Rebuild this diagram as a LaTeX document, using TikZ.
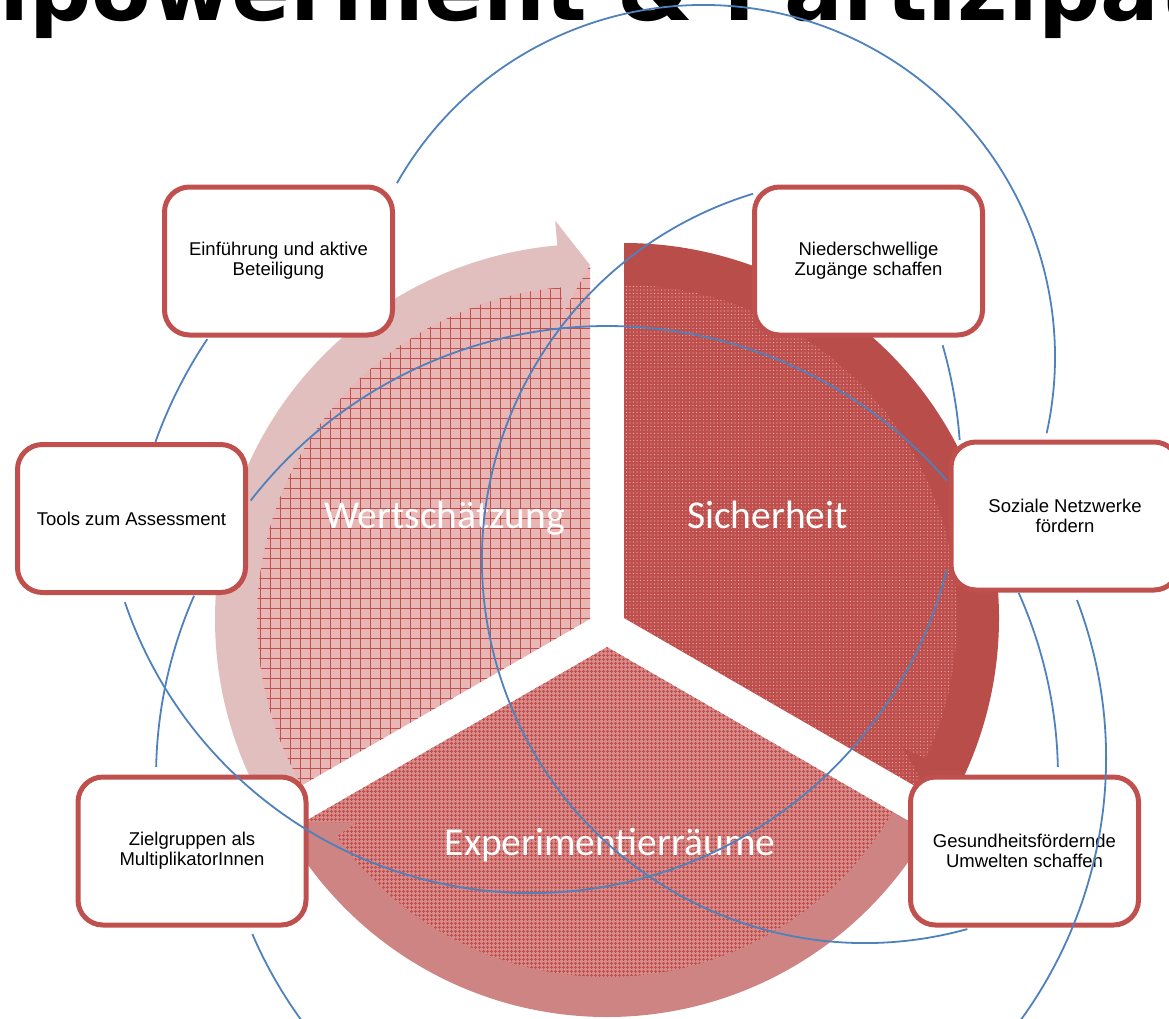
\documentclass[tikz,border=0pt]{standalone}
\usepackage{fontspec}
\setmainfont{Liberation Sans}
\newfontfamily\carl{Carlito}
\newfontfamily\titlefont{DejaVu Sans}
\usetikzlibrary{patterns.meta}
\definecolor{boxred}{HTML}{C0504D}
\definecolor{wband}{HTML}{E2BFBF}
\definecolor{sband}{HTML}{B94D4A}
\definecolor{eband}{HTML}{CD8483}
\definecolor{wfill}{HTML}{E8B6B5}
\definecolor{sfill}{HTML}{BF4F4C}
\definecolor{efill}{HTML}{DA8C8B}
\definecolor{arcblue}{HTML}{4F81BD}
\begin{document}
\begin{tikzpicture}[x=1pt,y=1pt,
  mybox/.style={draw=boxred, line width=5pt, rounded corners=25pt, fill=white,
    minimum width=228pt, minimum height=148pt, align=center, inner sep=0pt,
    font=\fontsize{18.5}{20}\selectfont, text=black},
  seglabel/.style={text=white, font=\carl\fontsize{39.5}{40}\selectfont, anchor=base, inner sep=0pt},
  arcline/.style={draw=arcblue, line width=1.8pt}]
\useasboundingbox (0,0) rectangle (1169,-1018);
\clip (0,0) rectangle (1169,-1018);
% title (cut off at the top edge)
\node[anchor=base west, inner sep=0pt, font=\titlefont\bfseries\fontsize{87}{87}\selectfont] (title) at (-121,-20) {Empowerment \& Partizipation};
% sector apexes
\coordinate (W) at (590,-619);
\coordinate (S) at (624,-618);
\coordinate (E) at (607,-647);
% sectors
\fill[wfill] (W) -- ([shift={(W)}]210:352) arc[start angle=210,end angle=90,radius=352] -- cycle;
\fill[pattern={Hatch[angle=0,distance=10pt,line width=0.7pt]},pattern color=boxred] (W) -- ([shift={(W)}]210:352) arc[start angle=210,end angle=90,radius=352] -- cycle;
\fill[sfill] (S) -- ([shift={(S)}]90:352) arc[start angle=90,end angle=-30,radius=352] -- cycle;
\fill[pattern={Dots[radius=0.55pt,distance=3.5pt]},pattern color=white!55!sfill] (S) -- ([shift={(S)}]90:352) arc[start angle=90,end angle=-30,radius=352] -- cycle;
\fill[efill] (E) -- ([shift={(E)}]330:352) arc[start angle=330,end angle=210,radius=352] -- cycle;
\fill[pattern={Hatch[angle=0,distance=4pt,line width=1.1pt]},pattern color=boxred] (E) -- ([shift={(E)}]330:352) arc[start angle=330,end angle=210,radius=352] -- cycle;
% circular arrows
\fill[wband] ([shift={(W)}]210:333) arc[start angle=210,end angle=95,radius=333]
  -- ([shift={(W)}]95:308) -- ([shift={(W)}]90:354) -- ([shift={(W)}]95:400)
  -- ([shift={(W)}]95:375) arc[start angle=95,end angle=210,radius=375] -- cycle;
\fill[sband] ([shift={(S)}]90:333) arc[start angle=90,end angle=-25,radius=333]
  -- ([shift={(S)}]-25:308) -- ([shift={(S)}]-30:354) -- ([shift={(S)}]-25:400)
  -- ([shift={(S)}]-25:375) arc[start angle=-25,end angle=90,radius=375] -- cycle;
\fill[eband] ([shift={(E)}]330:330) arc[start angle=330,end angle=215,radius=330]
  -- ([shift={(E)}]215:306) -- ([shift={(E)}]210:350) -- ([shift={(E)}]215:396)
  -- ([shift={(E)}]215:370) arc[start angle=215,end angle=330,radius=370] -- cycle;
% segment labels
\node[seglabel] (lw) at (444.5,-528) {Wertschätzung};
\node[seglabel] (ls) at (767.5,-528) {Sicherheit};
\node[seglabel] (le) at (610,-855) {Experimentierräume};
% boxes
\node[mybox] (einf) at (278.5,-261) {Einführung und aktive\\Beteiligung};
\node[mybox] (nied) at (868.5,-261) {Niederschwellige\\Zugänge schaffen};
\node[mybox] (soz) at (1065,-516) {Soziale Netzwerke\\fördern};
\node[mybox] (ges) at (1024.5,-851) {Gesundheitsfördernde\\Umwelten schaffen};
\node[mybox] (ziel) at (192,-851) {Zielgruppen als\\MultiplikatorInnen};
\node[mybox] (tools) at (131.5,-518.5) {Tools zum Assessment};
% arc centres
\coordinate (cA) at (703,-357);
\coordinate (cB) at (597,-600);
\coordinate (cC) at (531,-464);
\coordinate (cD) at (607,-777);
\coordinate (cE) at (661,-758);
\coordinate (cG) at (865,-560);
\coordinate (cH) at (493,-475);
% connector arcs
\draw[arcline] ([shift={(cA)}]150.4:352) arc[start angle=150.4,end angle=-12.5,radius=352];
\draw[arcline] ([shift={(cB)}]146.2:469) arc[start angle=146.2,end angle=160.3,radius=469];
\draw[arcline] ([shift={(cD)}]142.2:451) arc[start angle=142.2,end angle=41.1,radius=451];
\draw[arcline] ([shift={(cD)}]24.1:451) arc[start angle=24.1,end angle=1.3,radius=451];
\draw[arcline] ([shift={(cD)}]156.3:451) arc[start angle=156.3,end angle=178.7,radius=451];
\draw[arcline] ([shift={(cC)}]198.8:429) arc[start angle=198.8,end angle=345.7,radius=429];
\draw[arcline] ([shift={(cG)}]107:383) arc[start angle=107,end angle=285.5,radius=383];
\draw[arcline] ([shift={(cE)}]20.8:445) arc[start angle=20.8,end angle=-156.7,radius=445];
\draw[arcline] ([shift={(cH)}]16.1:468) arc[start angle=16.1,end angle=4.3,radius=468];
\end{tikzpicture}
\end{document}
